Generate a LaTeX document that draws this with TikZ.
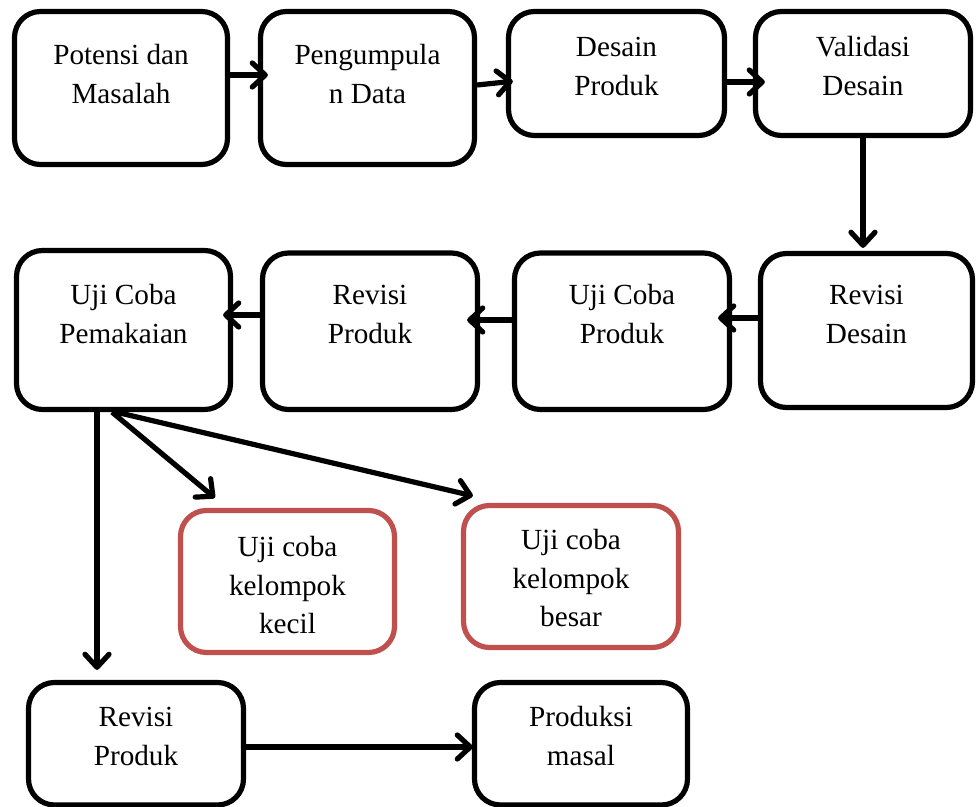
\documentclass[tikz,border=0pt]{standalone}
\usepackage{fontspec}
\setmainfont{Liberation Serif}
\usetikzlibrary{arrows.meta,fit,calc}
\definecolor{accred}{HTML}{C0504D}
\newcommand\ctext[1]{\vtop{\halign{\hfil##\hfil\cr#1\crcr}}}
\begin{document}
\begin{tikzpicture}[x=0.5pt,y=-0.5pt,
  box/.style={draw=black, line width=2.6pt, rounded corners=13pt, inner sep=0pt},
  redbox/.style={box, draw=accred},
  txt/.style={anchor=base, inner sep=0pt, font=\fontsize{14.6pt}{19.25pt}\selectfont},
  arr/.style={line width=2.6pt, -{Straight Barb[length=6.5pt,width=12pt,round]}}]
\useasboundingbox (0,0) rectangle (976,807);
\clip (0,0) rectangle (976,807);
% boxes
\node[box, fit={(14.5,11.5) (227.5,164.5)}] (b1) {};
\node[box, fit={(260.5,11.5) (474.5,164.5)}] (b2) {};
\node[box, fit={(508.5,11.5) (724.5,135.5)}] (b3) {};
\node[box, fit={(755.5,11.5) (970.5,135.5)}] (b4) {};
\node[box, fit={(16.5,250.5) (230.5,409.5)}] (b5) {};
\node[box, fit={(262.5,253) (477.5,409.5)}] (b6) {};
\node[box, fit={(514.5,253) (729.5,409.5)}] (b7) {};
\node[box, fit={(760.5,253.5) (972.5,407.5)}] (b8) {};
\node[redbox, fit={(180.5,510.5) (394.5,652.5)}] (b9) {};
\node[redbox, fit={(463.5,505.5) (678.5,647.5)}] (b10) {};
\node[box, fit={(28.5,682.5) (243.5,805)}] (b11) {};
\node[box, fit={(474.5,682.5) (687.5,805)}] (b12) {};
% texts
\node[txt] (t1) at (121,65) {\ctext{Potensi dan\cr Masalah}};
\node[txt] (t2) at (367.5,65) {\ctext{Pengumpula\cr n Data}};
\node[txt] (t3) at (616.5,57) {\ctext{Desain\cr Produk}};
\node[txt] (t4) at (863,57) {\ctext{Validasi\cr Desain}};
\node[txt] (t5) at (123.5,305) {\ctext{Uji Coba\cr Pemakaian}};
\node[txt] (t6) at (370,305) {\ctext{Revisi\cr Produk}};
\node[txt] (t7) at (622,305) {\ctext{Uji Coba\cr Produk}};
\node[txt] (t8) at (866.5,305) {\ctext{Revisi\cr Desain}};
\node[txt] (t9) at (287.5,557) {\ctext{Uji coba\cr kelompok\cr kecil}};
\node[txt] (t10) at (571,550) {\ctext{Uji coba\cr kelompok\cr besar}};
\node[txt] (t11) at (136,727) {\ctext{Revisi\cr Produk}};
\node[txt] (t12) at (581,727) {\ctext{Produksi\cr masal}};
% connectors
\draw[arr, shorten >=-5pt] (b1.east |- 0,75) -- (b2.west |- 0,75);
\draw[arr, shorten >=-3.5pt] (b2.east |- 0,85) -- (b3.west |- 0,82);
\draw[arr, shorten >=-6pt] (b3.east |- 0,82) -- (b4.west |- 0,82);
\draw[arr, shorten >=1.5pt] (b4.south) -- (b4.south |- b8.north);
\draw[arr, shorten >=-7pt] (b8.west |- 0,318) -- (b7.east |- 0,318);
\draw[arr, shorten >=-6.5pt] (b7.west |- 0,320) -- (b6.east |- 0,320);
\draw[arr, shorten >=-5pt] (b6.west |- 0,315) -- (b5.east |- 0,315);
\draw[arr, shorten >=5pt] (b5.south -| 97,0) -- (b11.north -| 97,0);
\draw[arr] (b5.south -| 112,0) -- ($(b9.north west)+(37,-10)$);
\draw[arr] (b5.south -| 116,0) -- ($(b10.north west)+(12,-7)$);
\draw[arr, shorten >=-0.5pt] (b11.east |- 0,747) -- (b12.west |- 0,747);
\end{tikzpicture}
\end{document}
